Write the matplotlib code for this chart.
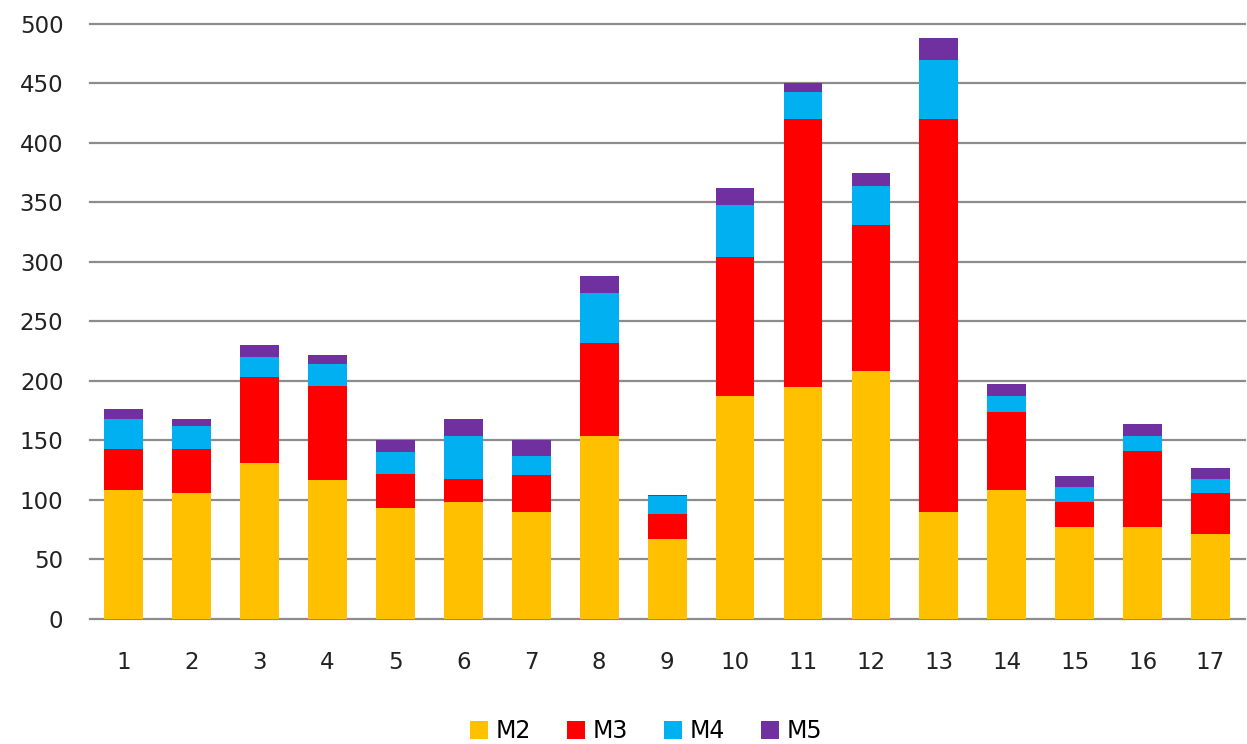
import matplotlib
matplotlib.use("Agg")
import matplotlib.pyplot as plt
import numpy as np

categories = [str(i) for i in range(1, 18)]
m2 = [108, 106, 131, 117, 93, 98, 90, 154, 67, 187, 195, 208, 90, 108, 77, 77, 71]
m3 = [35, 37, 72, 79, 29, 20, 31, 78, 21, 117, 225, 123, 330, 66, 21, 64, 35]
m4 = [25, 19, 17, 18, 18, 36, 16, 42, 15, 44, 23, 33, 50, 13, 13, 13, 12]
m5 = [8, 6, 10, 8, 10, 14, 13, 14, 1, 14, 7, 11, 18, 10, 9, 10, 9]
series_names = ["M2", "M3", "M4", "M5"]
colors = ["#FFC000", "#FF0000", "#00B0F0", "#7030A0"]

fig = plt.figure(figsize=(12.47, 7.44), dpi=100)
ax = fig.add_axes([0.072, 0.168, 0.926, 0.800])

x = np.arange(len(categories))
bottom = np.zeros(len(categories))
for name, vals, c in zip(series_names, [m2, m3, m4, m5], colors):
    ax.bar(x, vals, bottom=bottom, width=0.57, color=c, label=name, zorder=3)
    bottom += np.array(vals)

ax.set_ylim(0, 500)
ax.set_xlim(-0.5, len(categories) - 0.5)
ax.set_yticks(range(0, 501, 50))
ax.set_xticks(x)
ax.set_xticklabels(categories)
ax.yaxis.grid(True, color="#8c8c8c", linewidth=1.6, zorder=0)
for gl in ax.get_ygridlines():
    gl.set_clip_on(False)
for s in ax.spines.values():
    s.set_visible(False)
ax.tick_params(axis="both", length=0, labelsize=16.5, colors="#222222")
ax.tick_params(axis="x", pad=23)
ax.tick_params(axis="y", pad=19)

leg = fig.legend(loc="center", bbox_to_anchor=(0.518, 0.017), ncol=4, frameon=False,
                 fontsize=17, handlelength=0.76, handleheight=0.76, handletextpad=0.3,
                 columnspacing=1.55)

fig.savefig("out.png", dpi=100)
